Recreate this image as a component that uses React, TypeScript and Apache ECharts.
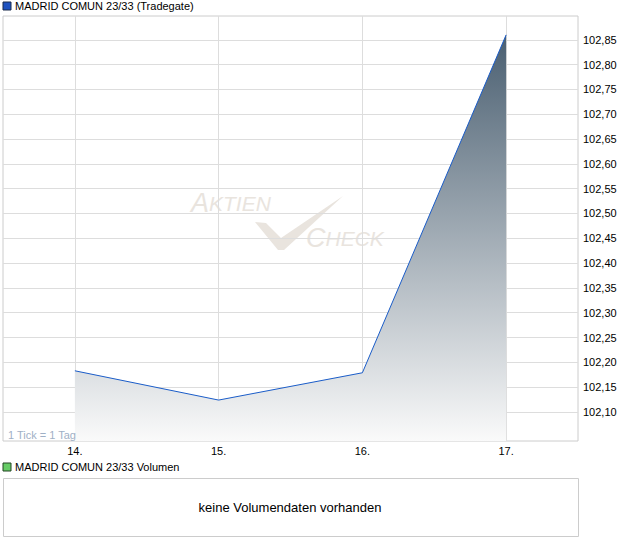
import React, { useEffect, useRef } from "react";
import * as echarts from "echarts";

const categories = ["14.", "15.", "16.", "17."];
const prices = [102.183, 102.124, 102.179, 102.86];
const yTickValues = [
  102.1, 102.15, 102.2, 102.25, 102.3, 102.35, 102.4, 102.45, 102.5, 102.55,
  102.6, 102.65, 102.7, 102.75, 102.8, 102.85,
];
const yMin = 102.0415;
const yMax = 102.898;
const seriesTitle = "MADRID COMUN 23/33 (Tradegate)";
const volumeTitle = "MADRID COMUN 23/33 Volumen";
const noVolumeText = "keine Volumendaten vorhanden";
const tickNote = "1 Tick = 1 Tag";

const FONT = "'Liberation Sans', Arial, sans-serif";
const WM = "#e9e4de";

export default function App() {
  const ref = useRef<HTMLDivElement>(null);
  useEffect(() => {
    document.body.style.margin = "0";
    if (!ref.current) return;
    const chart = echarts.init(ref.current, null, { renderer: "svg" });
    chart.setOption({
      animation: false,
      textStyle: { fontFamily: FONT },
      grid: {
        left: 3,
        top: 16,
        width: 575,
        height: 425,
        show: true,
        borderColor: "#cccccc",
        borderWidth: 1,
        backgroundColor: "transparent",
      },
      xAxis: {
        type: "category",
        data: categories,
        boundaryGap: true,
        axisLine: { show: false },
        axisTick: { show: false },
        splitLine: { show: false },
        axisLabel: { color: "#000", fontSize: 11, fontFamily: FONT, margin: 4 },
      },
      yAxis: {
        type: "value",
        position: "right",
        min: yMin,
        max: yMax,
        scale: true,
        axisLine: { show: false },
        axisTick: { show: false, customValues: yTickValues },
        splitLine: { show: true, lineStyle: { color: "#dddddd", width: 1 } },
        axisLabel: {
          customValues: yTickValues,
          color: "#000",
          fontSize: 11,
          fontFamily: FONT,
          margin: 5,
          formatter: (v: number) => v.toFixed(2).replace(".", ","),
        },
      },
      graphic: [
        {
          type: "rect",
          shape: { x: 3, y: 2, width: 8, height: 8 },
          style: { fill: "#1f52c0", stroke: "#1a2a4a", lineWidth: 1 },
        },
        {
          type: "text",
          x: 15,
          y: 6,
          style: { text: seriesTitle, fill: "#000", font: `11px ${FONT}`, verticalAlign: "middle" },
        },
        {
          type: "text",
          x: 8,
          y: 435,
          z: 10,
          style: { text: tickNote, fill: "#9fb0c6", font: `11px ${FONT}`, verticalAlign: "middle" },
        },
        {
          type: "text",
          x: 191,
          y: 203,
          z: 0,
          style: {
            text: "{b|A}{s|KTIEN}",
            verticalAlign: "middle",
            rich: {
              b: { fill: WM, font: `italic 27px ${FONT}` },
              s: { fill: WM, font: `italic 21px ${FONT}` },
            },
          },
        },
        {
          type: "text",
          x: 306,
          y: 238,
          z: 0,
          style: {
            text: "{b|C}{s|HECK}",
            verticalAlign: "middle",
            rich: {
              b: { fill: WM, font: `italic 27px ${FONT}` },
              s: { fill: WM, font: `italic 21px ${FONT}` },
            },
          },
        },
        {
          type: "polygon",
          z: 0,
          shape: {
            points: [
              [255, 222],
              [266, 223],
              [281, 238],
              [343, 196],
              [284, 250],
              [278, 250],
            ],
          },
          style: { fill: WM },
        },
        {
          type: "rect",
          shape: { x: 3, y: 463, width: 8, height: 8 },
          style: { fill: "#66cc66", stroke: "#224422", lineWidth: 1 },
        },
        {
          type: "text",
          x: 15,
          y: 467,
          style: { text: volumeTitle, fill: "#000", font: `11px ${FONT}`, verticalAlign: "middle" },
        },
        {
          type: "rect",
          shape: { x: 3.5, y: 478.5, width: 575, height: 58 },
          style: { fill: "#fff", stroke: "#cccccc", lineWidth: 1 },
        },
        {
          type: "text",
          x: 290,
          y: 507,
          style: {
            text: noVolumeText,
            fill: "#000",
            font: `13px ${FONT}`,
            align: "center",
            verticalAlign: "middle",
          },
        },
      ],
      series: [
        {
          type: "line",
          data: prices,
          symbol: "none",
          z: 3,
          lineStyle: { color: "#1a5cc8", width: 1 },
          areaStyle: {
            origin: "start",
            opacity: 1,
            color: new echarts.graphic.LinearGradient(0, 0, 0, 1, [
              { offset: 0, color: "#4a5f71" },
              { offset: 1, color: "#fafafa" },
            ]),
          },
          markLine: {
            silent: true,
            symbol: "none",
            z: 1,
            label: { show: false },
            lineStyle: { color: "#dddddd", width: 1, type: "solid" },
            data: categories.map((c) => ({ xAxis: c })),
          },
        },
      ],
    });
    return () => chart.dispose();
  }, []);
  return (
    <div
      ref={ref}
      style={{ width: 620, height: 546, position: "absolute", left: 0, top: 0 }}
    />
  );
}
